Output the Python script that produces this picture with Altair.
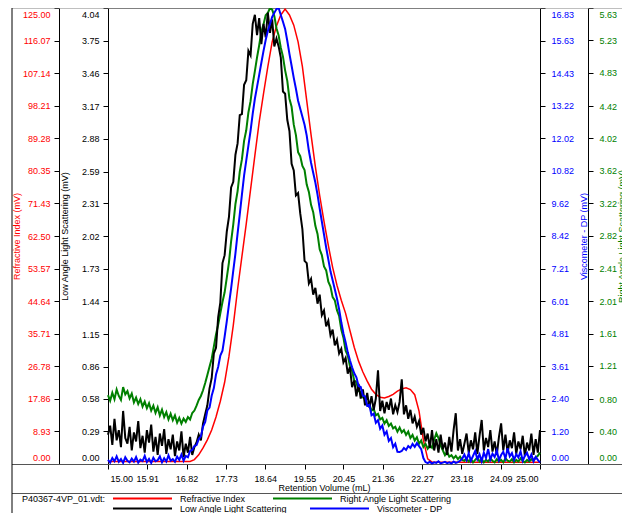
import altair as alt
import pandas as pd

FONT = "Liberation Sans"

# ---------------- data ----------------
RV_START = 15.0
RI_STEP = 0.1
DET_STEP = 0.05

# Refractive Index (mV), sampled every 0.1 mL from 15.0 to 25.0
ri_mv = ([0.7] * 20 +
         [1.2, 2.5, 4.4, 6.6, 9.3, 12.9, 17.2, 22.4, 29.5, 38.0,
          47.9, 56.9, 65.8, 75.2, 84.6, 93.8, 101.5, 108.9, 115.7, 120.1,
          123.1, 124.7, 123.1, 120.3, 115.7, 108.9, 99.6, 90.3, 81.5, 73.6,
          66.5, 59.9, 53.9, 49.0, 44.9, 41.3, 36.6, 32.0, 28.2, 25.2,
          22.7, 20.5, 19.1, 18.3, 18.1, 18.5, 19.1, 20.0, 20.6, 20.9,
          20.4, 19.0, 14.5, 6.6, 1.4] +
         [0.5] * 26)

# Low Angle Light Scattering (mV), every 0.05 mL
lals_mv = [
    0.26, 0.34, 0.17, 0.40, 0.21, 0.30, 0.15, 0.47, 0.23, 0.18,
    0.33, 0.12, 0.28, 0.20, 0.38, 0.14, 0.25, 0.10, 0.30, 0.19,
    0.35, 0.11, 0.24, 0.08, 0.27, 0.16, 0.31, 0.09, 0.22, 0.13,
    0.26, 0.07, 0.20, 0.12, 0.29, 0.06, 0.18, 0.10, 0.24, 0.08,
    0.15,
    0.19, 0.26, 0.21, 0.36, 0.44, 0.52, 0.67, 0.76, 0.98, 1.03,
    1.30, 1.43, 1.78, 1.85, 2.06, 2.19, 2.45, 2.50, 2.74, 2.84,
    3.09, 3.10, 3.36, 3.40, 3.66, 3.62, 3.90, 3.98,
    3.80, 3.95, 3.72, 3.90, 3.78, 4.00, 3.82, 3.94, 3.70,
    3.77, 3.70, 3.60, 3.30, 3.28, 3.05, 2.95, 2.66, 2.60, 2.38,
    2.40, 2.22, 2.08, 1.80, 1.78, 1.60, 1.64, 1.50, 1.56, 1.42,
    1.50, 1.32, 1.36, 1.22, 1.27, 1.14, 1.19, 1.05, 1.10, 0.98,
    1.02, 0.90, 0.94,
    0.80, 0.86, 0.68, 0.74, 0.60, 0.71, 0.58, 0.66, 0.52, 0.63,
    0.50, 0.60, 0.48, 0.58,
    0.83, 0.47, 0.56, 0.45, 0.55, 0.48, 0.58, 0.44, 0.52, 0.46,
    0.55, 0.75, 0.44, 0.52, 0.40, 0.48, 0.36, 0.42, 0.33, 0.38,
    0.26, 0.32, 0.20, 0.27, 0.14, 0.30, 0.12, 0.22, 0.10, 0.26,
    0.13, 0.19, 0.08, 0.24, 0.11, 0.30, 0.45, 0.12, 0.22, 0.09,
    0.18, 0.27, 0.10, 0.21, 0.13, 0.28, 0.09, 0.25, 0.39, 0.12,
    0.23, 0.15, 0.30, 0.11, 0.20, 0.08, 0.24, 0.36, 0.12, 0.26,
    0.10, 0.21, 0.14, 0.28, 0.09, 0.20, 0.13, 0.25, 0.07, 0.19,
    0.12, 0.27, 0.08, 0.22, 0.10, 0.30,
]

# Right Angle Light Scattering (mV), every 0.05 mL
rals_mv = [
    0.85, 0.78, 0.88, 0.80, 0.92, 0.84, 0.79, 0.95, 0.86, 0.90,
    0.81, 0.87, 0.76, 0.82, 0.74, 0.80, 0.71, 0.77, 0.69, 0.75,
    0.66, 0.72, 0.63, 0.70, 0.60, 0.67, 0.58, 0.64, 0.55, 0.62,
    0.54, 0.60, 0.51, 0.57, 0.50, 0.56, 0.52, 0.58, 0.55,
    0.63, 0.66, 0.72, 0.79, 0.84, 0.91, 1.00, 1.10, 1.20, 1.30,
    1.45, 1.60, 1.72, 1.86, 2.00,
    2.12, 2.30, 2.49, 2.75, 2.96, 3.21, 3.37, 3.61, 3.76, 3.99,
    4.12, 4.34, 4.48, 4.69, 4.85, 5.02, 5.17, 5.34, 5.43, 5.54,
    5.57, 5.63, 5.61, 5.53, 5.38, 5.29, 5.14, 5.03, 4.86, 4.73,
    4.51, 4.41, 4.19, 4.06, 3.85, 3.80, 3.68, 3.63, 3.45, 3.36,
    3.20, 3.11, 2.94, 2.84, 2.65, 2.58, 2.44, 2.39, 2.25, 2.19,
    2.06, 2.02, 1.90, 1.83, 1.66, 1.56, 1.40, 1.34, 1.21, 1.15,
    1.03, 1.01, 0.90, 0.89, 0.82, 0.81, 0.73, 0.74, 0.66, 0.68,
    0.60, 0.62, 0.55, 0.57, 0.50, 0.54, 0.47, 0.50, 0.44, 0.46,
    0.40, 0.45, 0.39, 0.42, 0.36, 0.40, 0.32, 0.36, 0.29, 0.33,
    0.25, 0.29, 0.21, 0.25, 0.19, 0.23, 0.20, 0.30, 0.38, 0.32,
    0.23, 0.17, 0.11, 0.15, 0.09, 0.11, 0.07, 0.10, 0.06, 0.09,
    0.05,
    0.04, 0.07, 0.03, 0.06, 0.02, 0.05, 0.08, 0.03, 0.06, 0.02,
    0.05, 0.03, 0.07, 0.04, 0.02, 0.06, 0.03, 0.05, 0.02, 0.07,
    0.04, 0.03, 0.06, 0.02, 0.05, 0.03, 0.07, 0.04, 0.02, 0.05,
    0.03, 0.06, 0.04, 0.08, 0.10, 0.14,
]

# Viscometer - DP (mV), every 0.05 mL
visc_mv = [
    0.15, 0.05, 0.22, 0.10, 0.28, 0.08, 0.18, 0.04, 0.25, 0.12,
    0.06, 0.20, 0.09, 0.26, 0.05, 0.16, 0.11, 0.30, 0.07, 0.19,
    0.04, 0.23, 0.10, 0.14, 0.28, 0.06, 0.21, 0.09, 0.32, 0.12,
    0.18, 0.08, 0.27, 0.15, 0.35, 0.12, 0.30,
    0.25, 0.48, 0.52, 0.66, 0.70, 0.92, 1.02, 1.38, 1.55, 1.98,
    2.08, 2.52, 2.80, 3.30, 3.58, 4.00, 4.18, 4.70,
    5.27, 5.89, 6.48, 7.14, 7.77, 8.51, 9.21, 9.94, 10.64, 11.20,
    11.75, 12.30, 12.93, 13.48, 13.92, 14.36, 14.81, 15.25, 15.65, 15.98,
    16.24, 16.50, 16.65, 16.79, 16.83, 16.57, 16.32, 16.06, 15.62, 15.14,
    14.70, 14.25, 13.85, 13.41, 13.11, 12.82, 12.52, 12.12, 11.56, 11.12,
    10.75, 10.39, 9.94, 9.43, 8.95, 8.47, 7.99, 7.55, 7.11, 6.78,
    6.45, 6.11, 5.71, 5.23, 4.82, 4.49, 4.12, 3.83, 3.57, 3.35,
    3.20, 2.88, 2.84, 2.52, 2.50, 2.15, 2.18, 1.80, 1.86, 1.52,
    1.62, 1.30, 1.42, 1.08, 1.20, 0.85, 0.96, 0.62, 0.75, 0.45,
    0.44, 0.48, 0.59, 0.52, 0.66, 0.59, 0.74, 0.63, 0.77, 0.66,
    0.55, 0.22, 0.07,
    0.03, 0.08, 0.02, 0.06, 0.04, 0.10, 0.02, 0.05, 0.08, 0.03,
    0.06, 0.02, 0.09, 0.04, 0.07, 0.12,
    0.20, 0.35, 0.15, 0.40, 0.12, 0.30, 0.48, 0.18, 0.36, 0.10,
    0.42, 0.22, 0.55, 0.16, 0.38, 0.26, 0.50, 0.14, 0.33, 0.45,
    0.20, 0.58, 0.28, 0.40, 0.15, 0.36, 0.24, 0.47, 0.12, 0.30,
    0.41, 0.18, 0.35, 0.10, 0.26, 0.15, 0.05,
]

x_ticks = [15.00, 15.91, 16.82, 17.73, 18.64, 19.55, 20.45, 21.36, 22.27, 23.18, 24.09, 25.00]
ri_ticks = [0.00, 8.93, 17.86, 26.78, 35.71, 44.64, 53.57, 62.50, 71.43, 80.35, 89.28, 98.21, 107.14, 116.07, 125.00]
lals_ticks = [0.00, 0.29, 0.58, 0.86, 1.15, 1.44, 1.73, 2.02, 2.31, 2.59, 2.88, 3.17, 3.46, 3.75, 4.04]
visc_ticks = [0.00, 1.20, 2.40, 3.61, 4.81, 6.01, 7.21, 8.42, 9.62, 10.82, 12.02, 13.22, 14.43, 15.63, 16.83]
rals_ticks = [0.00, 0.40, 0.80, 1.21, 1.61, 2.01, 2.41, 2.82, 3.22, 3.62, 4.02, 4.42, 4.83, 5.23, 5.63]

legend_title = "P40367-4VP_01.vdt:"
series_names = ["Refractive Index", "Right Angle Light Scattering",
                "Low Angle Light Scattering", "Viscometer - DP"]
series_colors = ["#FF0000", "#008000", "#000000", "#0000FF"]

# legend layout (pixels, relative to the plot origin)
leg_x = [5, 165, 5, 202]
leg_y = [490.5, 490.5, 500.5, 500.5]
LEG_LINE = 59
LEG_GAP = 8


def frame(values, step, name):
    return pd.DataFrame({
        "rv": [round(RV_START + step * i, 3) for i in range(len(values))],
        "mv": values,
        "series": name,
    })


df_ri = frame(ri_mv, RI_STEP, series_names[0])
df_rals = frame(rals_mv, DET_STEP, series_names[1])
df_lals = frame(lals_mv, DET_STEP, series_names[2])
df_visc = frame(visc_mv, DET_STEP, series_names[3])

# ---------------- encodings ----------------
xscale = alt.Scale(domain=[15, 25], nice=False, zero=False)
xaxis = alt.Axis(values=x_ticks, format=".2f", grid=False, title="Retention Volume (mL)",
                 domainColor="#555555", tickColor="#000000", tickSize=5,
                 labelFontSize=9, titleFontSize=9, titleFontWeight="normal",
                 labelFont=FONT, titleFont=FONT, labelColor="#000000", titleColor="#000000",
                 labelPadding=5, titlePadding=0, labelFlush=True, labelFlushOffset=-2,
                 labelOverlap=False)


def yaxis(orient, offset, values, color, title, title_x, pad):
    return alt.Axis(orient=orient, offset=offset, values=values, format=".2f", grid=False,
                    domainColor="#000000", tickColor="#000000", tickSize=5,
                    labelColor=color, titleColor=color, title=title,
                    labelFontSize=9, titleFontSize=9, titleFontWeight="normal",
                    labelFont=FONT, titleFont=FONT, labelPadding=pad,
                    labelFlush=True, labelFlushOffset=-2, labelOverlap=False,
                    titleAngle=270, titleBaseline="middle", titleAlign="center",
                    titleX=title_x, titleY=228)


def det_layer(df, color, stroke_w, dom, values, orient, offset, title, title_x, pad):
    return alt.Chart(df).mark_line(color=color, strokeWidth=stroke_w).encode(
        x=alt.X("rv:Q", scale=xscale, axis=xaxis),
        y=alt.Y("mv:Q", scale=alt.Scale(domain=dom, nice=False, zero=True),
                axis=yaxis(orient, offset, values, color, title, title_x, pad)),
    )


one = pd.DataFrame({"a": [0]})


def hline(y, x1, x2, col, w=1):
    return alt.Chart(one).mark_rule(color=col, strokeWidth=w).encode(
        x=alt.value(x1), x2=alt.value(x2), y=alt.value(y))


def vline(x, y1, y2, col):
    return alt.Chart(one).mark_rule(color=col, strokeWidth=1).encode(
        x=alt.value(x), y=alt.value(y1), y2=alt.value(y2))


def label(txt, x, y):
    return alt.Chart(one).mark_text(text=txt, align="left", baseline="middle",
                                    font=FONT, fontSize=9, color="#000000").encode(
        x=alt.value(x), y=alt.value(y))


frame_layers = [
    hline(0, -96, 522, "#808080"),
    hline(456.5, -96, 522, "#555555"),
    hline(485.5, -96, 522, "#555555"),
    vline(-96, 0, 505, "#000000"),
]

legend_layers = [label(legend_title, -86, leg_y[0])]
for name, col, lx, ly in zip(series_names, series_colors, leg_x, leg_y):
    legend_layers.append(hline(ly, lx, lx + LEG_LINE, col, 2))
    legend_layers.append(label(name, lx + LEG_LINE + LEG_GAP, ly))

ri = det_layer(df_ri, series_colors[0], 1.5, [0, 125], ri_ticks, "left", 49,
               "Refractive Index (mV)", -43, 4)
rals = det_layer(df_rals, series_colors[1], 2, [0, 5.63], rals_ticks, "right", 48,
                 "Right Angle Light Scattering (mV)", 33, 6)
lals = det_layer(df_lals, series_colors[2], 2, [0, 4.04], lals_ticks, "left", 0,
                 "Low Angle Light Scattering (mV)", -44, 4)
visc = det_layer(df_visc, series_colors[3], 2, [0, 16.83], visc_ticks, "right", 0,
                 "Viscometer - DP (mV)", 43, 6)

chart = alt.layer(*frame_layers, *legend_layers, ri, rals, lals, visc).resolve_scale(
    y="independent"
).properties(
    width=432, height=456,
    autosize=alt.AutoSizeParams(type="none"),
    padding={"left": 100, "top": 0, "right": 82, "bottom": 49},
).configure_view(stroke="#808080", strokeWidth=1)

chart.save("out.html", embed_options={"renderer": "svg", "actions": False})
